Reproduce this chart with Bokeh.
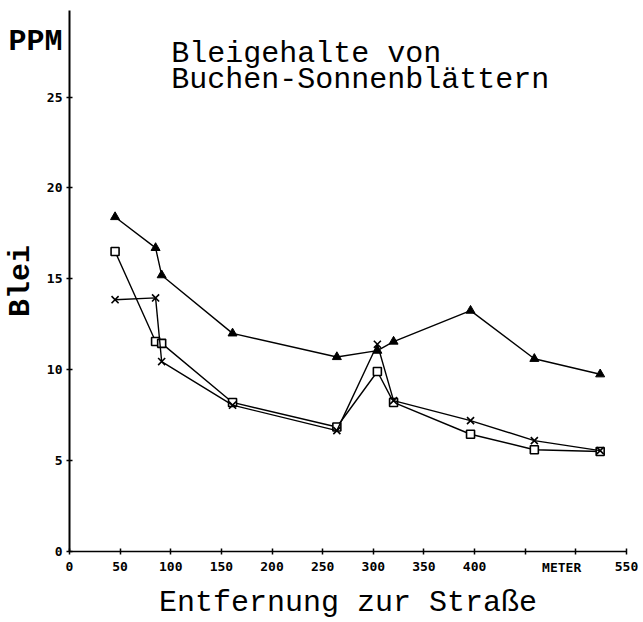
from bokeh.plotting import figure
from bokeh.models import Range1d, FixedTicker, Label, LinearAxis
from bokeh.embed import file_html
from bokeh.resources import INLINE

# --- data ---
distance_m = [45, 85, 91, 161, 264, 304, 320, 396, 459, 524]
series_triangle = [18.4, 16.7, 15.2, 12.0, 10.7, 11.05, 11.55, 13.25, 10.6, 9.75]
series_square = [16.5, 11.55, 11.45, 8.2, 6.85, 9.9, 8.2, 6.45, 5.6, 5.5]
series_cross = [13.85, 13.95, 10.45, 8.05, 6.65, 11.4, 8.3, 7.2, 6.1, 5.55]

x_ticks = [0, 50, 100, 150, 200, 250, 300, 350, 400, 450, 500, 550]
x_tick_labels = {0: "0", 50: "50", 100: "100", 150: "150", 200: "200", 250: "250",
                 300: "300", 350: "350", 400: "400", 450: "", 500: "", 550: "550"}
y_ticks = [0, 5, 10, 15, 20, 25, 30]

title_line1 = "Bleigehalte von"
title_line2 = "Buchen-Sonnenblättern"
unit_text = "PPM"
y_title = "Blei"
x_title = "Entfernung zur Straße"
x_unit_text = "METER"

MONO = "Liberation Mono"
TICKFONT = "DejaVu Sans Mono"

p = figure(width=643, height=622, output_backend="svg", toolbar_location=None,
           x_range=Range1d(0, 550), y_range=Range1d(0, 29.76),
           min_border_left=69, min_border_right=17, min_border_top=10, min_border_bottom=71)
p.outline_line_color = None
p.xgrid.visible = False
p.ygrid.visible = False
p.background_fill_color = "white"
p.border_fill_color = "white"


def style_ticks(ax):
    ax.axis_line_color = "black"
    ax.major_tick_line_color = "black"
    ax.major_tick_in = 3
    ax.major_tick_out = 3
    ax.minor_tick_line_color = None
    ax.major_label_text_font = TICKFONT
    ax.major_label_text_font_style = "bold"
    ax.major_label_text_font_size = "13px"
    ax.major_label_text_color = "black"


def hidden_axis(ax):
    ax.axis_line_color = None
    ax.major_tick_line_color = None
    ax.minor_tick_line_color = None
    ax.major_tick_in = 0
    ax.major_tick_out = 0


# main x axis
xa = p.xaxis[0]
style_ticks(xa)
xa.ticker = FixedTicker(ticks=x_ticks)
xa.major_label_overrides = dict(x_tick_labels)
xa.axis_line_width = 1.5
xa.major_tick_line_width = 1.5
xa.major_label_standoff = 7

# main y axis, with its title
ya = p.yaxis[0]
style_ticks(ya)
ya.ticker = FixedTicker(ticks=y_ticks)
ya.axis_line_width = 2
ya.major_tick_line_width = 1.5
ya.major_label_standoff = 4
ya.axis_label = y_title
ya.axis_label_text_font = MONO
ya.axis_label_text_font_style = "bold"
ya.axis_label_text_font_size = "30px"
ya.axis_label_text_color = "black"
ya.axis_label_standoff = 6

# "PPM" unit at the top-left, as a second left axis with one labelled tick
ppm_axis = LinearAxis(ticker=FixedTicker(ticks=[28]), major_label_overrides={28: unit_text})
hidden_axis(ppm_axis)
ppm_axis.major_label_standoff = -62
ppm_axis.major_label_text_font = MONO
ppm_axis.major_label_text_font_style = "bold"
ppm_axis.major_label_text_font_size = "30px"
ppm_axis.major_label_text_color = "black"
p.add_layout(ppm_axis, "left")

# "METER" unit + x title, as a second bottom axis
meter_axis = LinearAxis(ticker=FixedTicker(ticks=[486]), major_label_overrides={486: x_unit_text})
hidden_axis(meter_axis)
meter_axis.major_label_standoff = -14
meter_axis.major_label_text_font = TICKFONT
meter_axis.major_label_text_font_style = "bold"
meter_axis.major_label_text_font_size = "13px"
meter_axis.major_label_text_color = "black"
meter_axis.axis_label = x_title
meter_axis.axis_label_text_font = MONO
meter_axis.axis_label_text_font_style = "normal"
meter_axis.axis_label_text_font_size = "30px"
meter_axis.axis_label_text_color = "black"
meter_axis.axis_label_standoff = 8
p.add_layout(meter_axis, "below")

# series
p.line(distance_m, series_triangle, line_color="black", line_width=1.4)
p.scatter(distance_m, series_triangle, marker="triangle", size=9,
          fill_color="black", line_color="black")

p.line(distance_m, series_square, line_color="black", line_width=1.4)
p.scatter(distance_m, series_square, marker="square", size=8,
          fill_color="white", line_color="black", line_width=1.6)

p.line(distance_m, series_cross, line_color="black", line_width=1.4)
p.scatter(distance_m, series_cross, marker="x", size=10,
          line_color="black", line_width=1.6)

# chart title inside the plot area
p.add_layout(Label(x=100.5, y=27.38, text=title_line1, text_font=MONO,
                   text_font_size="30px", text_align="left", text_baseline="alphabetic",
                   text_color="black"))
p.add_layout(Label(x=100.5, y=25.95, text=title_line2, text_font=MONO,
                   text_font_size="30px", text_align="left", text_baseline="alphabetic",
                   text_color="black"))

open("out.html", "w").write(file_html(p, INLINE))
